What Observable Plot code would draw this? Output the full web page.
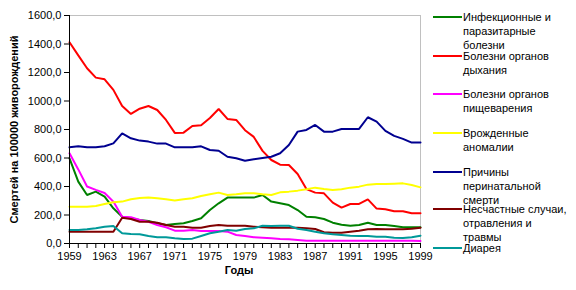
<!DOCTYPE html>
<html>
<head>
<meta charset="utf-8">
<script src="https://cdn.jsdelivr.net/npm/d3@7"></script>
<script src="https://cdn.jsdelivr.net/npm/@observablehq/plot@0.6"></script>
<style>
  html, body { margin: 0; padding: 0; background: #fff; }
  #wrap { position: relative; width: 576px; height: 290px; font-family: Arial, "Liberation Sans", sans-serif; }
  #legend { position: absolute; left: 433px; top: 0; width: 143px; font-size: 11px; color: #000; }
  .item { position: absolute; left: 0; }
  .item .sw { position: absolute; left: 0; width: 29px; height: 0; border-top: 2px solid; }
  .item .tx { position: absolute; left: 30px; line-height: 14px; white-space: nowrap; }
</style>
</head>
<body>
<div id="wrap"><div id="legend"></div></div>
<script>
const years = d3.range(1959, 2000);
const seriesNames = [
  "Инфекционные и паразитарные болезни",
  "Болезни органов дыхания",
  "Болезни органов пищеварения",
  "Врожденные аномалии",
  "Причины перинатальной смерти",
  "Несчастные случаи, отравления и травмы",
  "Диарея"
];
const legendLines = [
  ["Инфекционные и", "паразитарные", "болезни"],
  ["Болезни органов", "дыхания"],
  ["Болезни органов", "пищеварения"],
  ["Врожденные", "аномалии"],
  ["Причины", "перинатальной", "смерти"],
  ["Несчастные случаи,", "отравления и", "травмы"],
  ["Диарея"]
];
const colors = ["#008000", "#ff0000", "#ff00ff", "#ffff00", "#000090", "#800000", "#009999"];

const infectious = [598,434,340,364,329,247,188,177,165,158,142,130,137,142,158,177,235,282,322,322,322,322,340,294,282,270,235,188,184,172,146,132,125,130,146,130,130,123,114,114,114];
const respiratory = [1412,1320,1230,1164,1152,1078,965,909,946,965,937,867,776,778,825,830,881,944,874,867,795,748,650,586,553,551,488,382,357,352,287,252,277,278,310,245,240,226,226,212,212];
const digestive = [633,520,400,376,354,294,188,184,165,153,130,114,90,90,95,88,88,88,83,60,53,44,41,37,32,30,25,20,20,20,20,20,20,20,20,20,20,20,20,20,18];
const congenital = [258,258,258,263,277,289,294,310,319,322,317,310,301,310,317,333,345,357,340,345,352,352,345,340,359,364,371,380,392,383,376,380,392,399,413,418,418,420,422,411,394];
const perinatal = [675,682,675,675,682,703,773,738,722,715,701,701,675,675,675,682,656,651,609,598,581,591,600,609,633,691,785,797,832,785,785,804,804,804,886,855,790,755,734,708,708];
const accidents = [83,83,83,83,83,83,181,172,153,153,146,130,118,118,111,111,123,130,125,125,125,118,114,111,111,111,111,107,102,79,76,76,83,90,100,102,100,100,100,104,111];
const diarrhea = [95,95,100,107,118,123,72,67,65,53,44,44,37,32,34,53,72,83,95,90,102,107,125,123,125,125,104,95,83,72,65,60,55,53,53,48,48,41,39,44,55];

const yTicks = [0, 200, 400, 600, 800, 1000, 1200, 1400, 1600];
const xLabelYears = d3.range(1959, 2000, 4);

const allSeries = [infectious, respiratory, digestive, congenital, perinatal, accidents, diarrhea];
const data = [];
allSeries.forEach((vals, i) => vals.forEach((v, j) => data.push({year: years[j], value: v, series: seriesNames[i]})));

const fmt = d => d.toFixed(1).replace(".", ",");

const chart = Plot.plot({
  width: 576,
  height: 290,
  marginLeft: 69,
  marginRight: 156,
  marginTop: 15,
  marginBottom: 47,
  style: {fontFamily: "Arial, 'Liberation Sans', sans-serif", fontSize: "11px", color: "#000", background: "transparent"},
  x: {domain: [1959, 1999]},
  y: {domain: [0, 1600]},
  color: {domain: seriesNames, range: colors},
  marks: [
    Plot.frame({stroke: "#c0c0c0", strokeWidth: 1}),
    Plot.line(data, {x: "year", y: "value", z: "series", stroke: "series", strokeWidth: 2, strokeLinejoin: "miter"}),
    Plot.axisY({ticks: yTicks, tickFormat: fmt, tickSize: 5, tickPadding: 3, label: null}),
    Plot.axisX({ticks: years, tickFormat: d => xLabelYears.includes(d) ? String(d) : "", tickSize: 5, tickPadding: 4, label: null}),
    Plot.ruleX([1959], {stroke: "#000"}),
    Plot.ruleY([0], {stroke: "#000"}),
    Plot.text(["Смертей на 100000 живорождений"], {frameAnchor: "left", textAnchor: "middle", dx: -55, rotate: -90, fontWeight: "bold", fontSize: 11}),
    Plot.text(["Годы"], {frameAnchor: "bottom", textAnchor: "middle", dx: -6, dy: 30, fontWeight: "bold", fontSize: 11})
  ]
});
document.getElementById("wrap").prepend(chart);

const legendTops = [17, 56, 94, 133, 172, 209, 248];
const legend = document.getElementById("legend");
legendLines.forEach((lines, i) => {
  const item = document.createElement("div");
  item.className = "item";
  item.style.top = legendTops[i] + "px";
  const sw = document.createElement("div");
  sw.className = "sw";
  sw.style.borderTopColor = colors[i];
  sw.style.top = "-1px";
  const tx = document.createElement("div");
  tx.className = "tx";
  tx.style.top = "-7px";
  tx.innerHTML = lines.join("<br>");
  item.appendChild(sw);
  item.appendChild(tx);
  legend.appendChild(item);
});
</script>
</body>
</html>
